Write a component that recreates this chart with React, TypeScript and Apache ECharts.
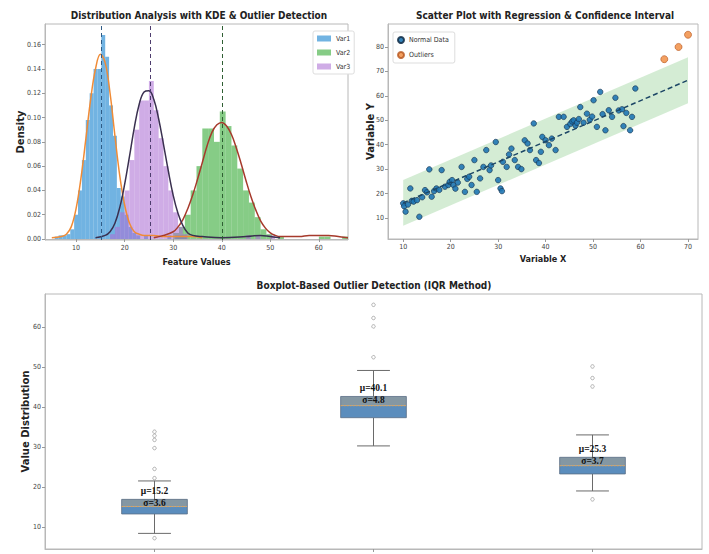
import React, { useEffect, useRef } from "react";
import * as echarts from "echarts";

const FONT_N = "'Liberation Sans Narrow','DejaVu Sans Condensed','Liberation Sans',sans-serif";
const FONT_W = "'DejaVu Sans',sans-serif";

// ---------- Panel 1: histograms + KDE ----------
const histNames = ["Var1", "Var2", "Var3"];
const histColors = ["rgba(58,150,215,0.72)", "rgba(60,172,60,0.62)", "rgba(172,112,212,0.58)"];
const kdeColors = ["#f08b36", "#a63a2c", "#3a3050"];
const meanLineColors = ["#2f5c86", "#2f5f33", "#4e3d6e"];
const histMeans = [15.2, 40.1, 25.3];

const var1BinStart = 5.6;
const var1BinWidth = 0.8;
const var1Density = [0.002, 0.003, 0.003, 0.004, 0.008, 0.02, 0.04, 0.065, 0.098, 0.12, 0.14, 0.14, 0.168, 0.15, 0.11, 0.085, 0.042, 0.035, 0.02, 0.01, 0.005, 0.003, 0, 0.003, 0, 0, 0, 0, 0, 0.003, 0, 0.003, 0.003, 0.003];

const var2BinStart = 30;
const var2BinWidth = 1.2;
const var2Density = [0.005, 0.01, 0.02, 0.04, 0.06, 0.091, 0.091, 0.08, 0.105, 0.093, 0.077, 0.058, 0.04, 0.03, 0.018, 0.008, 0.004, 0, 0.002, 0, 0, 0, 0, 0, 0, 0.002, 0.002, 0, 0, 0.002];

const var3BinStart = 17;
const var3BinWidth = 1.0;
const var3Density = [0.004, 0.01, 0.022, 0.04, 0.065, 0.09, 0.114, 0.114, 0.13, 0.106, 0.083, 0.06, 0.04, 0.022, 0.01, 0.004, 0, 0, 0, 0, 0, 0, 0, 0, 0, 0, 0, 0, 0.003, 0, 0.003, 0, 0, 0.003];

const kde1X = [5, 7, 8, 9, 10, 11, 12, 13, 14, 15, 16, 17, 18, 19, 20, 21, 22, 23, 24, 26, 28, 30, 32, 34, 36];
const kde1Y = [0.001, 0.002, 0.004, 0.01, 0.025, 0.05, 0.082, 0.115, 0.14, 0.152, 0.145, 0.12, 0.085, 0.052, 0.028, 0.013, 0.006, 0.004, 0.003, 0.003, 0.002, 0.002, 0.002, 0.002, 0.001];

const kde2X = [26, 28, 30, 31, 32, 33, 34, 35, 36, 37, 38, 39, 40, 41, 42, 43, 44, 45, 46, 47, 48, 49, 50, 51, 52, 54, 56, 58, 60, 62, 64, 66];
const kde2Y = [0.001, 0.003, 0.006, 0.01, 0.016, 0.025, 0.036, 0.049, 0.063, 0.077, 0.088, 0.094, 0.096, 0.093, 0.086, 0.075, 0.062, 0.048, 0.035, 0.024, 0.015, 0.009, 0.005, 0.003, 0.002, 0.002, 0.002, 0.003, 0.003, 0.003, 0.002, 0.001];

const kde3X = [14, 16, 17, 18, 19, 20, 21, 22, 23, 24, 25, 26, 27, 28, 29, 30, 31, 32, 33, 34, 36, 40, 45, 48, 50, 52];
const kde3Y = [0.001, 0.003, 0.006, 0.013, 0.026, 0.045, 0.068, 0.092, 0.111, 0.121, 0.122, 0.115, 0.099, 0.078, 0.056, 0.036, 0.021, 0.011, 0.005, 0.003, 0.002, 0.001, 0.002, 0.003, 0.002, 0.001];

const histXTicks = [10, 20, 30, 40, 50, 60];
const histYTicks = [0, 0.02, 0.04, 0.06, 0.08, 0.1, 0.12, 0.14, 0.16];

// ---------- Panel 2: scatter ----------
const normalX = [10.0, 10.2, 10.5, 11.0, 11.5, 11.8, 12.2, 12.9, 13.4, 14.0, 14.6, 15.0, 15.5, 16.0, 16.5, 17.0, 17.6, 18.1, 18.8, 19.5, 19.8, 20.3, 20.6, 21.0, 21.5, 22.3, 23.0, 23.5, 23.9, 24.4, 25.0, 25.5, 26.2, 26.9, 27.5, 28.2, 28.5, 29.5, 30.0, 30.5, 30.8, 31.0, 31.8, 32.3, 32.8, 33.5, 34.2, 34.9, 35.6, 36.2, 36.7, 37.5, 38.0, 38.6, 39.0, 39.3, 40.0, 40.7, 41.3, 42.1, 42.8, 43.8, 44.5, 45.2, 45.6, 45.9, 46.3, 46.6, 47.0, 47.3, 48.0, 48.7, 49.3, 49.8, 50.1, 50.8, 51.5, 52.0, 52.6, 53.3, 54.0, 54.7, 55.4, 56.1, 56.4, 57.0, 57.8, 58.2, 58.9];
const normalY = [16.0, 14.8, 12.6, 15.5, 22.1, 17.0, 16.7, 17.3, 10.5, 18.5, 21.4, 20.5, 29.9, 18.7, 21.0, 22.1, 21.5, 29.6, 22.8, 23.5, 24.8, 25.5, 23.5, 22.0, 24.5, 30.9, 20.7, 26.0, 26.9, 23.5, 33.7, 20.7, 26.2, 30.9, 37.8, 29.6, 31.5, 41.1, 25.5, 22.1, 21.0, 33.0, 30.9, 36.0, 38.4, 33.7, 30.9, 30.0, 41.8, 40.5, 37.8, 48.7, 33.7, 32.5, 37.1, 43.2, 41.8, 39.8, 42.5, 37.8, 51.4, 51.4, 47.3, 48.5, 49.5, 50.0, 47.8, 49.0, 50.5, 55.4, 49.0, 52.7, 50.2, 51.5, 58.2, 47.3, 61.6, 52.5, 45.9, 54.1, 51.4, 59.2, 54.0, 54.5, 47.6, 53.0, 45.9, 51.4, 63.0];
const outlierX = [65, 68, 70];
const outlierY = [75, 80, 85];
const regX = [10, 70];
const regY = [16.2, 66.4];
const bandLow = [6.8, 57.0];
const bandHigh = [25.6, 75.8];
const scatXTicks = [10, 20, 30, 40, 50, 60, 70];
const scatYTicks = [10, 20, 30, 40, 50, 60, 70, 80];

// ---------- Panel 3: boxplot ----------
const boxCategories = ["Var1", "Var2", "Var3"];
const boxLow = [8.4, 30.25, 19.0];
const boxQ1 = [13.25, 37.3, 23.25];
const boxMedian = [15.1, 40.3, 25.3];
const boxQ3 = [16.9, 42.6, 27.4];
const boxHigh = [21.5, 49.1, 33.0];
const boxMean = [15.2, 40.1, 25.3];
const boxStd = [3.6, 4.8, 3.7];
const boxOutliers = [
  [7.2, 22.2, 24.5, 29.7, 31.75, 32.8, 33.8],
  [52.4, 60.1, 62.2, 65.5],
  [16.9, 45.1, 47.2, 50.1],
];
const boxYTicks = [10, 20, 30, 40, 50, 60];

const tickLabel = (extra: any = {}) => ({
  fontSize: 7,
  color: "#444",
  fontFamily: FONT_N,
  margin: 4,
  ...extra,
});
const axisLineStyle = { show: true, lineStyle: { color: "#b8b8b8", width: 1 } };
const axisTickStyle = (vals: number[]) => ({ show: true, length: 3, lineStyle: { color: "#999" }, customValues: vals });

const makeBins = (start: number, width: number, dens: number[]) =>
  dens.map((d, i) => [start + i * width, start + (i + 1) * width, d]).filter((b) => b[2] > 0);

export default function App() {
  const ref = useRef<HTMLDivElement>(null);
  useEffect(() => {
    if (!ref.current) return;
    const chart = echarts.init(ref.current, undefined, { renderer: "svg" });

    const histRender = (_p: any, api: any) => {
      const p0 = api.coord([api.value(0), api.value(2)]);
      const p1 = api.coord([api.value(1), 0]);
      return {
        type: "rect",
        shape: { x: p0[0], y: p0[1], width: p1[0] - p0[0], height: p1[1] - p0[1] },
        style: { fill: api.visual("color") },
      };
    };

    const histSeries = [
      makeBins(var1BinStart, var1BinWidth, var1Density),
      makeBins(var2BinStart, var2BinWidth, var2Density),
      makeBins(var3BinStart, var3BinWidth, var3Density),
    ].map((data, i) => ({
      type: "custom",
      name: histNames[i],
      xAxisIndex: 0,
      yAxisIndex: 0,
      itemStyle: { color: histColors[i] },
      encode: { x: [0, 1], y: 2 },
      renderItem: histRender,
      data,
      z: 2,
    }));

    const kdeSeries = [
      [kde1X, kde1Y],
      [kde2X, kde2Y],
      [kde3X, kde3Y],
    ].map(([xs, ys], i) => ({
      type: "line",
      name: "kde" + i,
      xAxisIndex: 0,
      yAxisIndex: 0,
      data: xs.map((x, j) => [x, ys[j]]),
      smooth: 0.4,
      showSymbol: false,
      lineStyle: { color: kdeColors[i], width: 1.5 },
      z: 4,
      markLine: {
        silent: true,
        symbol: ["none", "none"],
        label: { show: false },
        lineStyle: { type: [4, 3], color: meanLineColors[i], width: 1 },
        data: [{ xAxis: histMeans[i] }],
      },
    }));

    const bandRender = (_p: any, api: any) => {
      const pts = [
        api.coord([regX[0], bandLow[0]]),
        api.coord([regX[1], bandLow[1]]),
        api.coord([regX[1], bandHigh[1]]),
        api.coord([regX[0], bandHigh[0]]),
      ];
      return { type: "polygon", shape: { points: pts }, style: { fill: "rgba(60,170,60,0.22)" } };
    };

    const boxRows = boxCategories.map((_, i) => [i, boxLow[i], boxQ1[i], boxMedian[i], boxQ3[i], boxHigh[i], boxMean[i], boxStd[i]]);

    const boxRender = (_p: any, api: any) => {
      const i = api.value(0);
      const y = (k: number) => api.coord([i, api.value(k)])[1];
      const xc = api.coord([i, api.value(3)])[0];
      const band = api.size([1, 0])[0];
      const bw = band * 0.3;
      const cw = bw * 0.5;
      const yLow = y(1), yQ1 = y(2), yMed = y(3), yQ3 = y(4), yHigh = y(5);
      const wStyle = { stroke: "#6a6a6a", lineWidth: 1 };
      const mu = "\u03bc=" + Number(api.value(6)).toFixed(1);
      const sg = "\u03c3=" + Number(api.value(7)).toFixed(1);
      return {
        type: "group",
        children: [
          { type: "line", shape: { x1: xc, y1: yQ3, x2: xc, y2: yHigh }, style: wStyle },
          { type: "line", shape: { x1: xc, y1: yQ1, x2: xc, y2: yLow }, style: wStyle },
          { type: "line", shape: { x1: xc - cw / 2, y1: yHigh, x2: xc + cw / 2, y2: yHigh }, style: wStyle },
          { type: "line", shape: { x1: xc - cw / 2, y1: yLow, x2: xc + cw / 2, y2: yLow }, style: wStyle },
          { type: "rect", shape: { x: xc - bw / 2, y: yMed, width: bw, height: yQ1 - yMed }, style: { fill: "#5b8dbd" } },
          { type: "rect", shape: { x: xc - bw / 2, y: yQ3, width: bw, height: yMed - yQ3 }, style: { fill: "#8497a3" } },
          { type: "rect", shape: { x: xc - bw / 2, y: yQ3, width: bw, height: yQ1 - yQ3 }, style: { fill: "none", stroke: "#5a6f85", lineWidth: 0.8 } },
          { type: "line", shape: { x1: xc - bw / 2, y1: yMed, x2: xc + bw / 2, y2: yMed }, style: { stroke: "#e0a050", lineWidth: 1, lineDash: [2, 1] } },
          {
            type: "text",
            x: xc,
            y: yQ3 - 8,
            style: { text: mu, align: "center", verticalAlign: "middle", textAlign: "center", textVerticalAlign: "middle", fill: "#111", font: "bold 9.5px 'Liberation Serif', serif" },
          },
          {
            type: "text",
            x: xc,
            y: yQ3 + 3.5,
            style: { text: sg, align: "center", verticalAlign: "middle", textAlign: "center", textVerticalAlign: "middle", fill: "#111", font: "bold 9.5px 'Liberation Serif', serif" },
          },
        ],
      };
    };

    const outlierData: any[] = [];
    boxOutliers.forEach((arr, i) => arr.forEach((v) => outlierData.push([boxCategories[i], v])));

    const titleStyle = { fontSize: 10, fontWeight: "bold", fontFamily: FONT_N, color: "#222" };
    const xNameStyle = { fontSize: 9, fontWeight: "bold", fontFamily: FONT_N, color: "#222" };
    const yNameStyle = { fontSize: 10, fontWeight: "bold", fontFamily: FONT_W, color: "#222" };

    const option: any = {
      animation: false,
      backgroundColor: "#fff",
      title: [
        { text: "Distribution Analysis with KDE & Outlier Detection", left: 199, top: 10, textAlign: "center", padding: 0, textStyle: titleStyle },
        { text: "Scatter Plot with Regression & Confidence Interval", left: 545, top: 10, textAlign: "center", padding: 0, textStyle: titleStyle },
        { text: "Boxplot-Based Outlier Detection (IQR Method)", left: 374, top: 280, textAlign: "center", padding: 0, textStyle: titleStyle },
      ],
      legend: [
        {
          data: histNames,
          orient: "vertical",
          left: 313,
          top: 31,
          icon: "rect",
          itemWidth: 14,
          itemHeight: 6,
          itemGap: 7,
          padding: [4, 4, 4, 4],
          backgroundColor: "#fff",
          borderColor: "#ddd",
          borderWidth: 1,
          borderRadius: 2,
          textStyle: { fontSize: 7, color: "#333", fontFamily: FONT_N },
        },
        {
          data: ["Normal Data", "Outliers"],
          orient: "vertical",
          left: 393,
          top: 32,
          icon: "circle",
          itemWidth: 6,
          itemHeight: 6,
          itemGap: 7,
          padding: [4, 6, 4, 4],
          backgroundColor: "#fff",
          borderColor: "#ddd",
          borderWidth: 1,
          borderRadius: 2,
          textStyle: { fontSize: 7, color: "#333", fontFamily: FONT_N },
        },
      ],
      grid: [
        { left: 45, top: 24, width: 303, height: 216, show: true, borderColor: "#b8b8b8", borderWidth: 1, outerBoundsMode: "none" },
        { left: 388, top: 24, width: 310, height: 215, show: true, borderColor: "#b8b8b8", borderWidth: 1, outerBoundsMode: "none" },
        { left: 45, top: 294, width: 657, height: 255, show: true, borderColor: "#b8b8b8", borderWidth: 1, outerBoundsMode: "none" },
      ],
      xAxis: [
        {
          gridIndex: 0,
          type: "value",
          min: 3.6,
          max: 66,
          axisLine: axisLineStyle,
          axisTick: axisTickStyle(histXTicks),
          axisLabel: tickLabel({ customValues: histXTicks }),
          splitLine: { show: false },
          name: "Feature Values",
          nameLocation: "middle",
          nameGap: 17,
          nameMoveOverlap: false,
          nameTextStyle: xNameStyle,
        },
        {
          gridIndex: 1,
          type: "value",
          min: 6.8,
          max: 72.1,
          axisLine: axisLineStyle,
          axisTick: axisTickStyle(scatXTicks),
          axisLabel: tickLabel({ customValues: scatXTicks }),
          splitLine: { show: false },
          name: "Variable X",
          nameLocation: "middle",
          nameGap: 15,
          nameMoveOverlap: false,
          nameTextStyle: xNameStyle,
        },
        {
          gridIndex: 2,
          type: "category",
          data: boxCategories,
          axisLine: axisLineStyle,
          axisTick: { show: true, alignWithLabel: true, length: 3, lineStyle: { color: "#999" } },
          axisLabel: { show: false },
          splitLine: { show: false },
        },
      ],
      yAxis: [
        {
          gridIndex: 0,
          type: "value",
          min: -0.0008,
          max: 0.177,
          axisLine: axisLineStyle,
          axisTick: axisTickStyle(histYTicks),
          axisLabel: tickLabel({ customValues: histYTicks, formatter: (v: number) => v.toFixed(2) }),
          splitLine: { show: false },
          name: "Density",
          nameLocation: "middle",
          nameGap: 20,
          nameMoveOverlap: false,
          nameTextStyle: yNameStyle,
        },
        {
          gridIndex: 1,
          type: "value",
          min: 1.4,
          max: 89.4,
          axisLine: axisLineStyle,
          axisTick: axisTickStyle(scatYTicks),
          axisLabel: tickLabel({ customValues: scatYTicks }),
          splitLine: { show: false },
          name: "Variable Y",
          nameLocation: "middle",
          nameGap: 13,
          nameMoveOverlap: false,
          nameTextStyle: yNameStyle,
        },
        {
          gridIndex: 2,
          type: "value",
          min: 4.5,
          max: 68.2,
          axisLine: axisLineStyle,
          axisTick: axisTickStyle(boxYTicks),
          axisLabel: tickLabel({ customValues: boxYTicks }),
          splitLine: { show: false },
          name: "Value Distribution",
          nameLocation: "middle",
          nameGap: 15,
          nameMoveOverlap: false,
          nameTextStyle: yNameStyle,
        },
      ],
      series: [
        ...histSeries,
        ...kdeSeries,
        {
          type: "custom",
          name: "band",
          xAxisIndex: 1,
          yAxisIndex: 1,
          renderItem: bandRender,
          data: [[regX[0], bandLow[0]]],
          z: 1,
          silent: true,
        },
        {
          type: "scatter",
          name: "Normal Data",
          xAxisIndex: 1,
          yAxisIndex: 1,
          data: normalX.map((x, i) => [x, normalY[i]]),
          symbolSize: 5.5,
          itemStyle: { color: "#1f77b4", borderColor: "#16324d", borderWidth: 0.7, opacity: 0.9 },
          z: 3,
        },
        {
          type: "scatter",
          name: "Outliers",
          xAxisIndex: 1,
          yAxisIndex: 1,
          data: outlierX.map((x, i) => [x, outlierY[i]]),
          symbolSize: 7,
          itemStyle: { color: "#f0883a", borderColor: "#b5541c", borderWidth: 0.8 },
          z: 3,
        },
        {
          type: "line",
          name: "regression",
          xAxisIndex: 1,
          yAxisIndex: 1,
          data: regX.map((x, i) => [x, regY[i]]),
          showSymbol: false,
          lineStyle: { color: "#1d4766", width: 1.5, type: [5, 3] },
          z: 4,
        },
        {
          type: "custom",
          name: "boxes",
          xAxisIndex: 2,
          yAxisIndex: 2,
          renderItem: boxRender,
          encode: { x: 0, y: [1, 5] },
          data: boxRows,
          z: 2,
        },
        {
          type: "scatter",
          name: "boxOutliers",
          xAxisIndex: 2,
          yAxisIndex: 2,
          data: outlierData,
          symbol: "circle",
          symbolSize: 3.5,
          itemStyle: { color: "#fff", borderColor: "#888", borderWidth: 0.8 },
          z: 3,
        },
      ],
    };

    chart.setOption(option);
    return () => chart.dispose();
  }, []);

  return (
    <div
      ref={ref}
      style={{ position: "fixed", left: 0, top: 0, width: 709, height: 554, background: "#fff" }}
    />
  );
}
